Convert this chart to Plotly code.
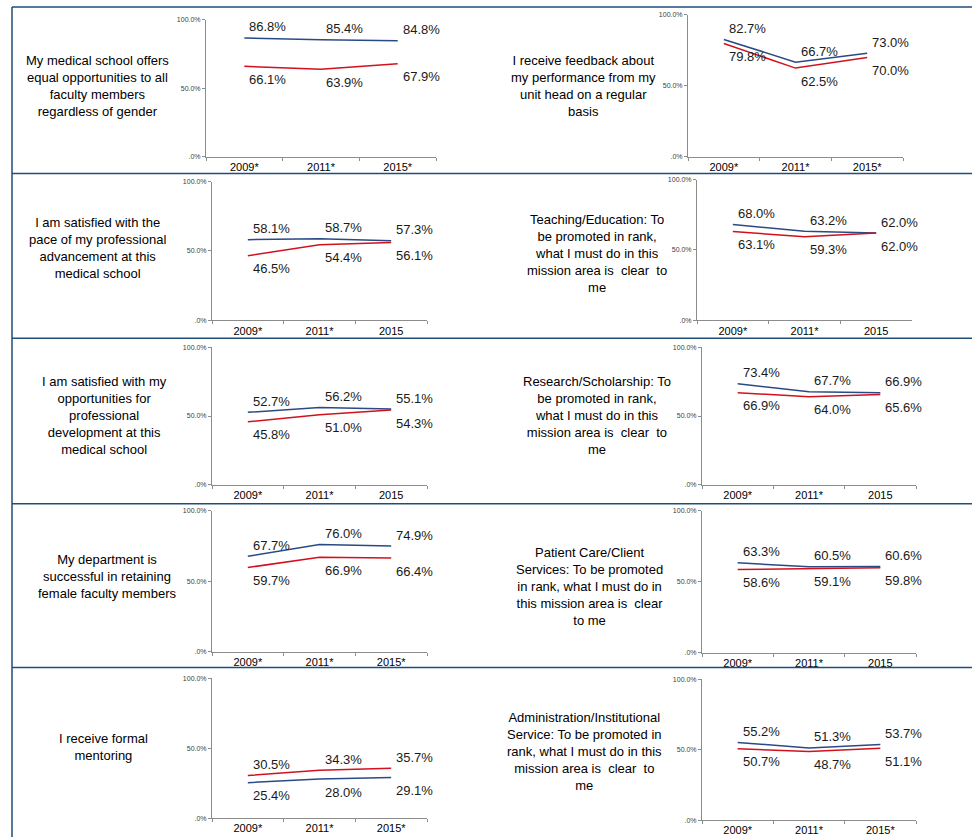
import plotly.graph_objects as go

# ---------------- data ----------------
questions = [
    "My medical school offers<br>equal opportunities to all<br>faculty members<br>regardless of gender",
    "I receive feedback about<br>my performance from my<br>unit head on a regular<br>basis",
    "I am satisfied with the<br>pace of my professional<br>advancement at this<br>medical school",
    "Teaching/Education: To<br>be promoted in rank,<br>what I must do in this<br>mission area is  clear  to<br>me",
    "I am satisfied with my<br>opportunities for<br>professional<br>development at this<br>medical school",
    "Research/Scholarship: To<br>be promoted in rank,<br>what I must do in this<br>mission area is  clear  to<br>me",
    "My department is<br>successful in retaining<br>female faculty members",
    "Patient Care/Client<br>Services: To be promoted<br>in rank, what I must do in<br>this mission area is  clear<br>to me",
    "I receive formal<br>mentoring",
    "Administration/Institutional<br>Service: To be promoted in<br>rank, what I must do in this<br>mission area is  clear  to<br>me",
]

year_labels = [
    ["2009*", "2011*", "2015*"],
    ["2009*", "2011*", "2015*"],
    ["2009*", "2011*", "2015"],
    ["2009*", "2011*", "2015"],
    ["2009*", "2011*", "2015"],
    ["2009*", "2011*", "2015"],
    ["2009*", "2011*", "2015*"],
    ["2009*", "2011*", "2015"],
    ["2009*", "2011*", "2015*"],
    ["2009*", "2011*", "2015*"],
]

blue_values = [
    [86.8, 85.4, 84.8],
    [82.7, 66.7, 73.0],
    [58.1, 58.7, 57.3],
    [68.0, 63.2, 62.0],
    [52.7, 56.2, 55.1],
    [73.4, 67.7, 66.9],
    [67.7, 76.0, 74.9],
    [63.3, 60.5, 60.6],
    [25.4, 28.0, 29.1],
    [55.2, 51.3, 53.7],
]

red_values = [
    [66.1, 63.9, 67.9],
    [79.8, 62.5, 70.0],
    [46.5, 54.4, 56.1],
    [63.1, 59.3, 62.0],
    [45.8, 51.0, 54.3],
    [66.9, 64.0, 65.6],
    [59.7, 66.9, 66.4],
    [58.6, 59.1, 59.8],
    [30.5, 34.3, 35.7],
    [50.7, 48.7, 51.1],
]

y_tick_vals = [0, 50, 100]
y_tick_text = [".0%", "50.0%", "100.0%"]

# ---------------- layout (pixel geometry) ----------------
W, H = 972, 840
# plot areas: (x0, x1, ytop, ybottom) in pixels
plot_boxes = [
    (206, 436, 16, 154), (688, 903, 11, 154),
    (212, 427, 179, 319), (697, 912, 177, 319),
    (212, 427, 346, 485), (702, 916, 346, 485),
    (212, 427, 511, 653), (702, 916, 511, 654),
    (212, 427, 680, 821), (702, 916, 681, 823),
]
# question text centres (x, y) in pixels
text_centres = [
    (97, 83), (583, 83),
    (97, 246), (597, 252),
    (104, 415), (597, 415),
    (107, 577), (589, 587),
    (103, 749), (584, 754),
]

BLUE = "#2A4A86"
RED = "#D2111E"
BORDER = "#1F4E79"
FONT = "Liberation Sans, Arial, sans-serif"

fig = go.Figure()
layout = dict(
    width=W, height=H,
    margin=dict(l=0, r=0, t=0, b=0),
    paper_bgcolor="white", plot_bgcolor="white",
    showlegend=False,
    font=dict(family=FONT, color="#000000"),
)
annotations = []
shapes = []

for i in range(10):
    n = i + 1
    xa = "xaxis" if n == 1 else f"xaxis{n}"
    ya = "yaxis" if n == 1 else f"yaxis{n}"
    xr = "x" if n == 1 else f"x{n}"
    yr = "y" if n == 1 else f"y{n}"
    x0, x1, yt, yb = plot_boxes[i]
    layout[xa] = dict(
        domain=[x0 / W, x1 / W], anchor=yr, type="category",
        range=[-0.5, 2.5], showgrid=False, zeroline=False,
        showline=True, linecolor="#8C8C8C", linewidth=1,
        ticks="outside", ticklen=3, tickcolor="#8C8C8C", tickson="boundaries",
        tickfont=dict(size=11, color="#000000", family=FONT),
        fixedrange=True,
    )
    layout[ya] = dict(
        domain=[1 - yb / H, 1 - yt / H], anchor=xr,
        range=[0, 100], showgrid=False, zeroline=False,
        showline=True, linecolor="#8C8C8C", linewidth=1,
        ticks="outside", ticklen=3, tickcolor="#8C8C8C",
        tickvals=y_tick_vals, ticktext=y_tick_text,
        tickfont=dict(size=7, color="#404040", family=FONT),
        fixedrange=True,
    )
    cats = year_labels[i]
    fig.add_trace(go.Scatter(x=cats, y=blue_values[i], mode="lines",
                             line=dict(color=BLUE, width=1.5),
                             xaxis=xr, yaxis=yr, name="Series 1"))
    fig.add_trace(go.Scatter(x=cats, y=red_values[i], mode="lines",
                             line=dict(color=RED, width=1.5),
                             xaxis=xr, yaxis=yr, name="Series 2"))

    blue_on_top = sum(blue_values[i]) >= sum(red_values[i])
    for vals, top in ((blue_values[i], blue_on_top), (red_values[i], not blue_on_top)):
        for k, v in enumerate(vals):
            annotations.append(dict(
                x=k, y=v, xref=xr, yref=yr, text=f"{v:.1f}%",
                showarrow=False, xanchor="left", yanchor="middle",
                xshift=3, yshift=11 if top else -13,
                font=dict(size=13, color="#1A1A1A", family=FONT),
            ))

    cx, cy = text_centres[i]
    annotations.append(dict(
        x=cx / W, y=1 - cy / H, xref="paper", yref="paper",
        text=questions[i], showarrow=False, xanchor="center", yanchor="middle",
        align="center", font=dict(size=13, color="#000000", family=FONT),
    ))

# table borders
line_style = dict(color=BORDER, width=1.5)
shapes.append(dict(type="line", xref="paper", yref="paper",
                   x0=12 / W, x1=12 / W, y0=0, y1=1 - 3 / H, line=line_style))
for yy in [3, 171, 337, 504, 669]:
    shapes.append(dict(type="line", xref="paper", yref="paper",
                       x0=12 / W, x1=1, y0=1 - yy / H, y1=1 - yy / H, line=line_style))

layout["annotations"] = annotations
layout["shapes"] = shapes
fig.update_layout(**layout)
fig.write_html("out.html")
